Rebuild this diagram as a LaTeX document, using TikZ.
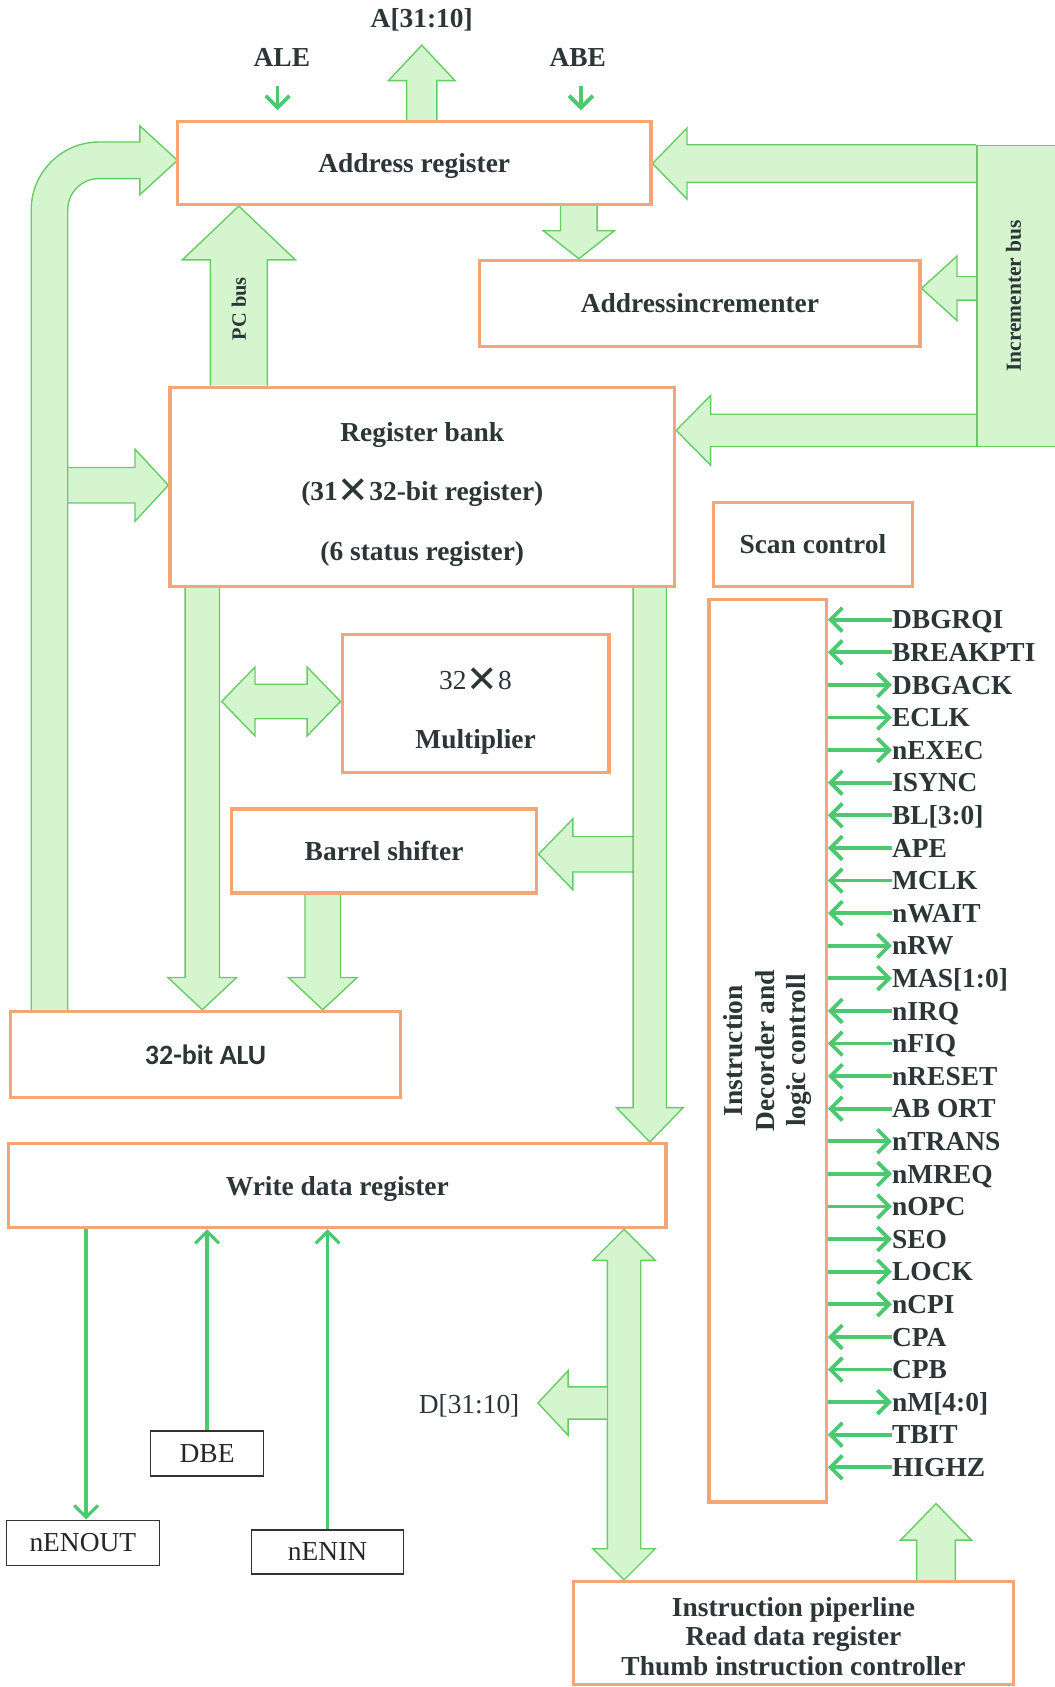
\documentclass[tikz,border=0pt]{standalone}
\usepackage{fontspec}
\setmainfont{Liberation Serif}
\newfontfamily\calfont{Carlito}
\newfontfamily\symfont{DejaVu Sans}
\usetikzlibrary{arrows.meta, positioning, calc}

\definecolor{boxorange}{RGB}{244,166,118}
\definecolor{busline}{RGB}{102,204,102}
\definecolor{busfill}{RGB}{212,245,206}
\definecolor{siggreen}{RGB}{76,200,112}
\definecolor{textgray}{RGB}{44,54,54}

\pgfdeclarelayer{background}
\pgfsetlayers{background,main}

% fat bus arrow: from, tip, half shaft, half head, head length
\newcommand{\busarrow}[5]{%
  \coordinate (hb) at ($(#2)!#5!(#1)$);
  \draw [bus] ($(#1)!#3!90:(#2)$) -- ($(hb)!#3!90:(#2)$) -- ($(hb)!#4!90:(#2)$) -- (#2)
    -- ($(hb)!#4!-90:(#2)$) -- ($(hb)!#3!-90:(#2)$) -- ($(#1)!#3!-90:(#2)$);
}
\newcommand{\busdouble}[5]{%
  \coordinate (ha) at ($(#1)!#5!(#2)$);
  \coordinate (hb) at ($(#2)!#5!(#1)$);
  \draw [bus] (#1) -- ($(ha)!#4!90:(#2)$) -- ($(ha)!#3!90:(#2)$) -- ($(hb)!#3!90:(#2)$) -- ($(hb)!#4!90:(#2)$) -- (#2)
    -- ($(hb)!#4!-90:(#2)$) -- ($(hb)!#3!-90:(#2)$) -- ($(ha)!#3!-90:(#2)$) -- ($(ha)!#4!-90:(#2)$) -- cycle;
}
\newcommand{\bigx}{\raisebox{-2.5pt}{\symfont\mdseries\fontsize{35}{30}\selectfont ✕}}

\begin{document}
\begin{tikzpicture}[
  x=1pt, y=-1pt,
  node distance=12.9pt,
  box/.style={draw=boxorange, line width=3pt, fill=white, text=textgray, inner sep=0pt, text depth=0pt, font=\fontsize{25.5}{30}\selectfont\bfseries},
  pinbox/.style={draw=black!80, line width=1.3pt, fill=white, text=black!85, inner sep=0pt, font=\fontsize{25.5}{30}\selectfont},
  bus/.style={draw=busline, line width=1.3pt, fill=busfill, line join=miter},
  sig/.style={draw=siggreen, line width=3.5pt, -{Straight Barb[length=11pt, width=22pt]}},
  pin/.style={anchor=west, inner sep=0pt, text height=17pt, text depth=0pt, text=textgray, font=\fontsize{25.5}{30}\selectfont\bfseries},
  tag/.style={text=textgray, inner sep=0pt, font=\fontsize{25.5}{30}\selectfont\bfseries}
]
  \useasboundingbox (0,0) rectangle (980,1568);

  % Blocks
  \node (areg) [box, minimum width=440pt, minimum height=77pt] at (385,151.5) {Address register};
  \node (ainc) [box, minimum width=409pt, minimum height=80pt] at (650.5,282) {Addressincrementer};
  \node (rbank) [box, minimum width=469pt, minimum height=185pt] at (392.5,452.5) {};
  \node [tag, align=center, font=\fontsize{25.5}{55}\selectfont\bfseries] at ([yshift=-7pt]rbank.center) {Register bank\\(31\bigx32-bit register)\\(6 status register)};
  \node (scan) [box, minimum width=185pt, minimum height=78pt] at (755.5,506) {Scan control};
  \node (mult) [box, minimum width=248pt, minimum height=128pt] at (442,654) {};
  \node [tag, align=center, font=\fontsize{25.5}{55}\selectfont\bfseries] at ([yshift=-7pt]mult.center) {{\mdseries 32\bigx8}\\Multiplier};
  \node (barrel) [box, minimum width=284pt, minimum height=78pt] at (357,791) {Barrel shifter};
  \node (alu) [box, minimum width=362pt, minimum height=80pt, font=\calfont\fontsize{26}{30}\selectfont\bfseries] at (191,980) {32-bit ALU};
  \node (wdr) [box, minimum width=611pt, minimum height=78pt] at (313.5,1102) {Write data register};
  \node (dec) [box, minimum width=109pt, minimum height=839pt] at (713.5,976.5) {};
  \node [tag, rotate=90, align=center, font=\fontsize{25.5}{29}\selectfont\bfseries] at (dec.center) {Instruction\\Decorder and\\logic controll};
  \node (pipe) [box, minimum width=409pt, minimum height=96pt] at (737.5,1518) {};
  \node [tag, align=center, font=\fontsize{25.5}{27.5}\selectfont\bfseries] at ([yshift=-3pt]pipe.center) {Instruction piperline\\Read data register\\Thumb instruction controller};
  \node (incbus) [bus, minimum width=82pt, minimum height=280pt, inner sep=0pt] at (949,275) {};
  \node [tag, rotate=90, font=\fontsize{20}{24}\selectfont\bfseries] at (942,275) {Incrementer bus};

  % Address pins
  \node (abus) [tag] at (392,18) {A[31:10]};
  \node (ale) [tag] at (262,53) {ALE};
  \node (abe) [tag] at (537,53) {ABE};
  \coordinate (aout) at (392,42);

  % Bus taps
  \coordinate (pcx) at (222,0);
  \coordinate (aix) at (538,0);
  \coordinate (ary) at (0,152);
  \coordinate (aiy) at (0,268);
  \coordinate (rby) at (0,400);
  \coordinate (lbus) at (63,451);
  \coordinate (lbx) at (188,0);
  \coordinate (bsx) at (300,0);
  \coordinate (mlx) at (206,652);
  \coordinate (rbx) at (604,0);
  \coordinate (rbtap) at (588.5,794);
  \coordinate (dbx) at (580,0);
  \coordinate (dtap) at (564,1304);
  \coordinate (dout) at (500,1304);
  \coordinate (ipx) at (870,0);

  % Fat buses
  \begin{pgfonlayer}{background}
    \busarrow{aout |- areg.north}{aout}{14pt}{31pt}{33pt}
    \busarrow{pcx |- rbank.north}{pcx |- areg.south}{26.5pt}{52.5pt}{50pt}
    \busarrow{aix |- areg.south}{aix |- ainc.north}{17pt}{33pt}{26pt}
    \busarrow{incbus.west |- ary}{areg.east |- ary}{17.5pt}{33pt}{32pt}
    \busarrow{incbus.west |- aiy}{ainc.east |- aiy}{11pt}{30pt}{33pt}
    \busarrow{incbus.west |- rby}{rbank.east |- rby}{15pt}{32.5pt}{32pt}
    \busarrow{lbus}{rbank.west |- lbus}{16.5pt}{33.5pt}{31pt}
    \draw [bus] (29,940) [rounded corners=63pt] -- (29,132) [sharp corners] -- (130,132) -- (130,117) -- (165,149)
      -- (130,181) -- (130,166) [rounded corners=29pt] -- (63,166) [sharp corners] -- (63,940);
    \busarrow{lbx |- rbank.south}{lbx |- alu.north}{16pt}{32pt}{30pt}
    \busarrow{bsx |- barrel.south}{bsx |- alu.north}{16.5pt}{32pt}{30pt}
    \busdouble{mlx}{mult.west |- mlx}{16pt}{32pt}{31pt}
    \busarrow{rbtap}{barrel.east |- rbtap}{16.5pt}{33pt}{32pt}
    \busarrow{rbx |- rbank.south}{rbx |- wdr.north}{15.5pt}{31pt}{32pt}
    \busdouble{dbx |- wdr.south}{dbx |- pipe.north}{15.5pt}{29pt}{29pt}
    \busarrow{dtap}{dout}{15pt}{30pt}{28pt}
    \busarrow{ipx |- pipe.north}{ipx |- dec.south}{18pt}{33pt}{34pt}
  \end{pgfonlayer}
  \node [tag, rotate=90, font=\fontsize{19}{22}\selectfont\bfseries] at (222,287) {PC bus};

  % Thin control lines
  \draw [sig, shorten <=18pt, shorten >=9pt] ([xshift=-4pt]ale.south) -- ([xshift=-4pt]ale.south |- areg.north);
  \draw [sig, shorten <=18pt, shorten >=9pt] ([xshift=3pt]abe.south) -- ([xshift=3pt]abe.south |- areg.north);

  \node (dlab) [tag, font=\fontsize{25.5}{30}\selectfont] at (436,1307) {D[31:10]};
  \node (dbe) [pinbox, minimum width=105pt, minimum height=42pt] at (192.5,1351) {DBE};
  \node (nenout) [pinbox, minimum width=142pt, minimum height=42pt] at (77,1434) {nENOUT};
  \node (nenin) [pinbox, minimum width=141pt, minimum height=41pt] at (304.5,1442.5) {nENIN};
  \draw [sig, line width=3pt] ([xshift=3pt]nenout.north |- wdr.south) -- ([xshift=3pt]nenout.north);
  \draw [sig, line width=3pt] (dbe) -- (dbe |- wdr.south);
  \draw [sig, line width=3pt] (nenin) -- (nenin |- wdr.south);

  % Decoder pins
  \node (s1) [pin] at (829,576) {DBGRQI};
  \node (s2) [pin, below=of s1.south west, anchor=north west] {BREAKPTI};
  \node (s3) [pin, below=of s2.south west, anchor=north west] {DBGACK};
  \node (s4) [pin, below=of s3.south west, anchor=north west] {ECLK};
  \node (s5) [pin, below=of s4.south west, anchor=north west] {nEXEC};
  \node (s6) [pin, below=of s5.south west, anchor=north west] {ISYNC};
  \node (s7) [pin, below=of s6.south west, anchor=north west] {BL[3:0]};
  \node (s8) [pin, below=of s7.south west, anchor=north west] {APE};
  \node (s9) [pin, below=of s8.south west, anchor=north west] {MCLK};
  \node (s10) [pin, below=of s9.south west, anchor=north west] {nWAIT};
  \node (s11) [pin, below=of s10.south west, anchor=north west] {nRW};
  \node (s12) [pin, below=of s11.south west, anchor=north west] {MAS[1:0]};
  \node (s13) [pin, below=of s12.south west, anchor=north west] {nIRQ};
  \node (s14) [pin, below=of s13.south west, anchor=north west] {nFIQ};
  \node (s15) [pin, below=of s14.south west, anchor=north west] {nRESET};
  \node (s16) [pin, below=of s15.south west, anchor=north west] {AB ORT};
  \node (s17) [pin, below=of s16.south west, anchor=north west] {nTRANS};
  \node (s18) [pin, below=of s17.south west, anchor=north west] {nMREQ};
  \node (s19) [pin, below=of s18.south west, anchor=north west] {nOPC};
  \node (s20) [pin, below=of s19.south west, anchor=north west] {SEO};
  \node (s21) [pin, below=of s20.south west, anchor=north west] {LOCK};
  \node (s22) [pin, below=of s21.south west, anchor=north west] {nCPI};
  \node (s23) [pin, below=of s22.south west, anchor=north west] {CPA};
  \node (s24) [pin, below=of s23.south west, anchor=north west] {CPB};
  \node (s25) [pin, below=of s24.south west, anchor=north west] {nM[4:0]};
  \node (s26) [pin, below=of s25.south west, anchor=north west] {TBIT};
  \node (s27) [pin, below=of s26.south west, anchor=north west] {HIGHZ};

  \draw [sig] (s1.west) -- (s1.west -| dec.east);
  \draw [sig] (s2.west) -- (s2.west -| dec.east);
  \draw [sig] (s3.west -| dec.east) -- (s3.west);
  \draw [sig] (s4.west -| dec.east) -- (s4.west);
  \draw [sig] (s5.west -| dec.east) -- (s5.west);
  \draw [sig] (s6.west) -- (s6.west -| dec.east);
  \draw [sig] (s7.west) -- (s7.west -| dec.east);
  \draw [sig] (s8.west) -- (s8.west -| dec.east);
  \draw [sig] (s9.west) -- (s9.west -| dec.east);
  \draw [sig] (s10.west) -- (s10.west -| dec.east);
  \draw [sig] (s11.west -| dec.east) -- (s11.west);
  \draw [sig] (s12.west -| dec.east) -- (s12.west);
  \draw [sig] (s13.west) -- (s13.west -| dec.east);
  \draw [sig] (s14.west) -- (s14.west -| dec.east);
  \draw [sig] (s15.west) -- (s15.west -| dec.east);
  \draw [sig] (s16.west) -- (s16.west -| dec.east);
  \draw [sig] (s17.west -| dec.east) -- (s17.west);
  \draw [sig] (s18.west -| dec.east) -- (s18.west);
  \draw [sig] (s19.west -| dec.east) -- (s19.west);
  \draw [sig] (s20.west -| dec.east) -- (s20.west);
  \draw [sig] (s21.west -| dec.east) -- (s21.west);
  \draw [sig] (s22.west -| dec.east) -- (s22.west);
  \draw [sig] (s23.west) -- (s23.west -| dec.east);
  \draw [sig] (s24.west) -- (s24.west -| dec.east);
  \draw [sig] (s25.west -| dec.east) -- (s25.west);
  \draw [sig] (s26.west) -- (s26.west -| dec.east);
  \draw [sig] (s27.west) -- (s27.west -| dec.east);

\end{tikzpicture}
\end{document}
